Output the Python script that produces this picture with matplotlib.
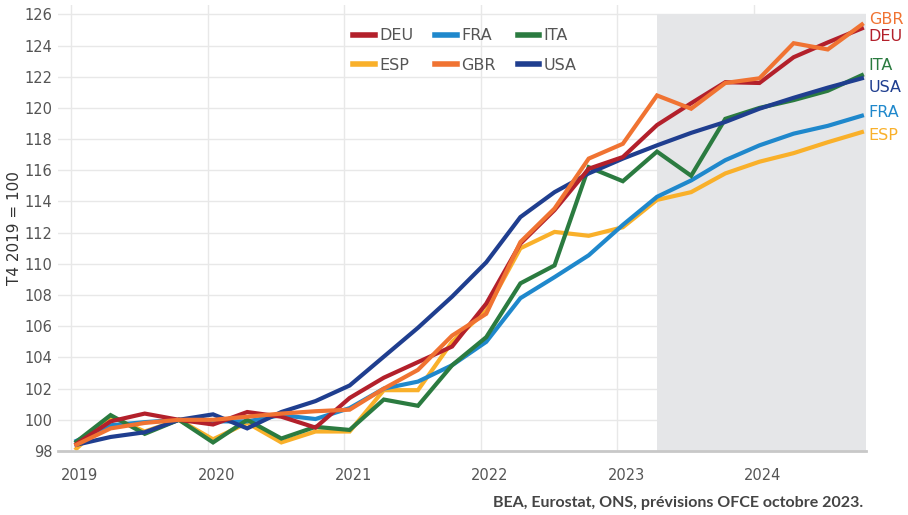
import numpy as np
import matplotlib
matplotlib.use("Agg")
import matplotlib.pyplot as plt
from matplotlib.transforms import ScaledTranslation

# quarterly index, T4 2019 = 100, 2019T1 .. 2024T4
years = [2019, 2020, 2021, 2022, 2023, 2024]
first_forecast = 17  # index of 2023T2, start of the shaded forecast area

deu = [98.45, 99.9, 100.4, 100.0, 99.7, 100.5, 100.2, 99.5, 101.4, 102.7, 103.7, 104.7,
       107.45, 111.3, 113.45, 116.1, 116.85, 118.9, 120.3, 121.65, 121.6, 123.25, 124.2, 125.1]
fra = [98.65, 99.65, 99.85, 100.0, 99.9, 99.9, 100.3, 100.05, 100.75, 102.0, 102.45, 103.5,
       105.0, 107.8, 109.15, 110.55, 112.5, 114.3, 115.35, 116.65, 117.6, 118.35, 118.85, 119.5]
ita = [98.6, 100.3, 99.1, 100.0, 98.55, 100.0, 98.8, 99.55, 99.35, 101.3, 100.9, 103.5,
       105.3, 108.75, 109.9, 116.2, 115.3, 117.2, 115.65, 119.3, 120.0, 120.5, 121.1, 122.1]
esp = [98.15, 100.2, 99.25, 100.0, 98.75, 99.8, 98.55, 99.25, 99.25, 101.9, 101.9, 105.0,
       107.0, 111.0, 112.05, 111.8, 112.35, 114.1, 114.6, 115.8, 116.55, 117.1, 117.8, 118.45]
gbr = [98.4, 99.45, 99.8, 100.0, 100.0, 100.2, 100.4, 100.55, 100.65, 102.0, 103.2, 105.4,
       106.8, 111.4, 113.55, 116.75, 117.7, 120.8, 119.95, 121.6, 121.9, 124.15, 123.75, 125.35]
usa = [98.4, 98.9, 99.2, 100.0, 100.35, 99.45, 100.5, 101.2, 102.2, 104.05, 105.9, 107.9,
       110.1, 113.0, 114.6, 115.8, 116.75, 117.6, 118.4, 119.1, 119.95, 120.65, 121.3, 121.9]

series = {"DEU": deu, "FRA": fra, "ITA": ita, "ESP": esp, "GBR": gbr, "USA": usa}
colors = {"DEU": "#b3202b", "FRA": "#1f88cc", "ITA": "#2b7b40",
          "ESP": "#f9b02a", "GBR": "#f07332", "USA": "#1f3e8f"}
# y position of the country names at the right edge
label_y = {"GBR": 125.65, "DEU": 124.55, "ITA": 122.7, "USA": 121.3, "FRA": 119.7, "ESP": 118.25}

x = np.array([y + 0.25 * q + 0.04 for y in years for q in range(4)])

fig = plt.figure(figsize=(9.08, 5.15), dpi=100)
ax = fig.add_axes([58 / 908, 64 / 515, 808 / 908, 446 / 515])
ax.set_xlim(2018.905, 2024.82)
ax.set_ylim(98, 126.6)

ax.fill_between([x[first_forecast], 2024.82], 98, 126, color="#e5e6e8", lw=0, zorder=1)

draw_order = ["ESP", "FRA", "ITA", "USA", "DEU", "GBR"]
lines = {}
for name in draw_order:
    lines[name], = ax.plot(x, series[name], color=colors[name], lw=3.0, zorder=3,
                           solid_joinstyle="miter", label=name)

for name, yy in label_y.items():
    ax.text(2024.84, yy, name, color=colors[name], fontsize=11.5, va="center", ha="left",
            clip_on=False)

ax.set_yticks(np.arange(98, 127, 2))
ax.set_xticks(years)
ax.grid(True, color="#e8e8e8", lw=1.0, zorder=0)
ax.set_axisbelow(True)
for s in ["top", "right", "left"]:
    ax.spines[s].set_visible(False)
ax.spines["bottom"].set_color("#c8c8c8")
ax.spines["bottom"].set_linewidth(2)
ax.spines["bottom"].set_zorder(4)
ax.tick_params(axis="both", length=0, labelsize=10.5, labelcolor="#555555")
ax.tick_params(axis="y", pad=4)
ax.tick_params(axis="x", pad=12)
offset = ScaledTranslation(9 / 100, 0, fig.dpi_scale_trans)
for lab in ax.get_xticklabels():
    lab.set_transform(lab.get_transform() + offset)

ax.set_ylabel("T4 2019 = 100", fontsize=11, color="#333333")
ax.yaxis.set_label_coords(-36 / 808, 0.5)

order = ["DEU", "ESP", "FRA", "GBR", "ITA", "USA"]
leg = ax.legend([lines[n] for n in order], order, ncol=3, frameon=False,
                loc="upper left", bbox_to_anchor=(339 / 908, 1 - 14 / 515),
                bbox_transform=fig.transFigure, fontsize=11.5, handlelength=1.35,
                handletextpad=0.25, columnspacing=1.4, labelspacing=0.9)
for t in leg.get_texts():
    t.set_color("#555555")
for h in leg.legend_handles:
    h.set_linewidth(4)

fig.text(863 / 908, 1 - 503 / 515, "BEA, Eurostat, ONS, prévisions OFCE octobre 2023.",
         ha="right", va="center", fontsize=11.5, fontweight="bold", color="#444444",
         family="Lato")

fig.savefig("out.png", dpi=100)
